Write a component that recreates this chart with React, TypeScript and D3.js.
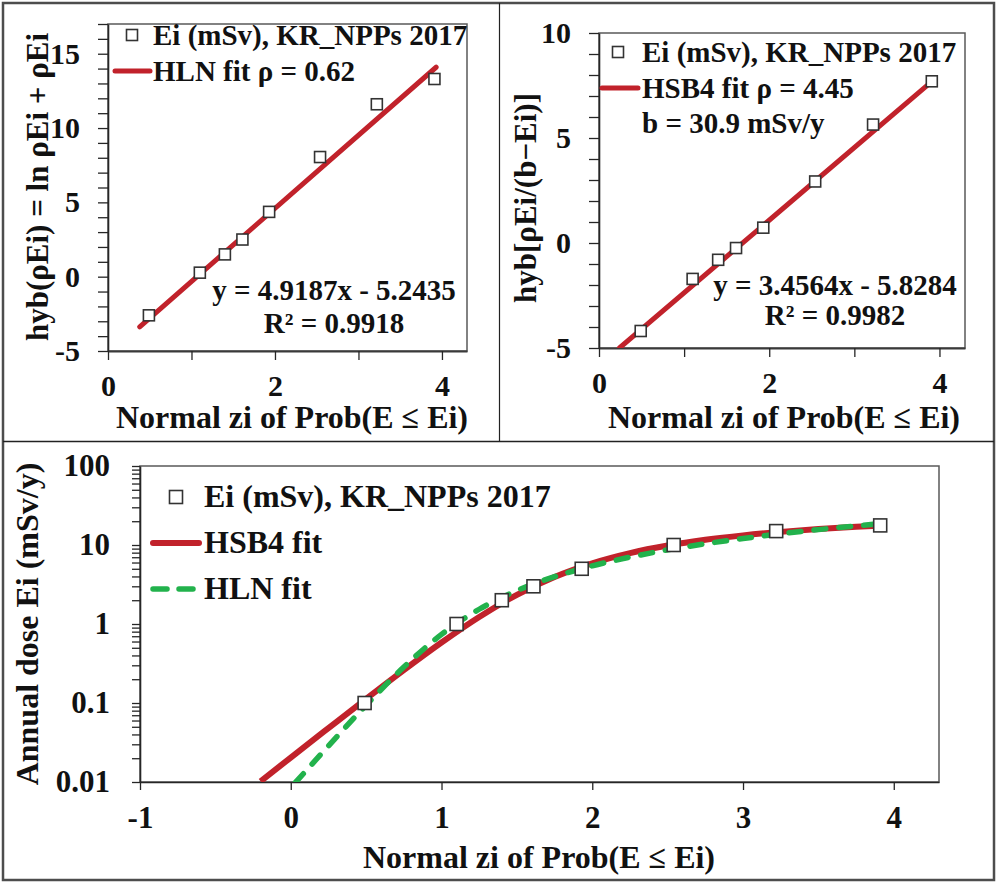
import React, { useEffect, useRef } from 'react';
import * as d3 from 'd3';

// normal scores zi of the 8 observed doses
const zi = [0.49, 1.10, 1.40, 1.61, 1.93, 2.54, 3.22, 3.91];
// transformed values, top-left panel (HLN, rho = 0.62)
const hybHLN = [-2.6, 0.27, 1.5, 2.5, 4.36, 8.05, 11.6, 13.3];
// transformed values, top-right panel (HSB4, rho = 4.45, b = 30.9)
const hybHSB4 = [-4.19, -1.71, -0.8, -0.24, 0.73, 2.93, 5.64, 7.7];
// annual doses Ei (mSv/y), bottom panel
const doseEi = [0.1, 1, 2, 3, 5, 10, 15, 17.7];

// straight fit lines (end points)
const hlnLineZ = [0.38, 3.93];
const hlnLineY = [-3.37, 14.09];
const hsbLineZ = [0.24, 3.87];
const hsbLineY = [-5.0, 7.55];

// fitted curves in the bottom panel
const hsbCurveZ = [-0.2, 0, 0.25, 0.5, 0.75, 1, 1.25, 1.5, 1.75, 2, 2.25, 2.5, 2.75, 3, 3.25, 3.5, 3.75, 3.9];
const hsbCurveE = [0.0102, 0.0204, 0.0481, 0.113, 0.261, 0.583, 1.228, 2.341, 3.941, 5.866, 7.89, 9.84, 11.64, 13.24, 14.66, 15.9, 17.0, 17.59];
const hlnCurveZ = [0.03, 0.25, 0.5, 0.75, 1, 1.25, 1.5, 1.75, 2, 2.25, 2.5, 2.75, 3, 3.25, 3.5, 3.75, 3.93];
const hlnCurveE = [0.0098, 0.0286, 0.094, 0.285, 0.738, 1.537, 2.645, 3.973, 5.447, 7.021, 8.665, 10.36, 12.09, 13.86, 15.65, 17.45, 18.76];

const legendObs = 'Ei (mSv), KR_NPPs 2017';
const xTitle = 'Normal zi of Prob(E \u2264 Ei)';

const FONT = '"Liberation Serif", "Times New Roman", serif';
const RED = '#c1222b';
const GREEN = '#22b24c';
const AXIS = '#262626';

type Sel = d3.Selection<SVGGElement, unknown, null, undefined>;

function styleAxis(g: Sel, fontSize: number) {
    g.select('.domain').attr('stroke', AXIS).attr('stroke-width', 1.6);
    g.selectAll('.tick line').attr('stroke', AXIS).attr('stroke-width', 1.3);
    g.selectAll('.tick text')
        .attr('fill', '#111')
        .style('font-family', FONT)
        .style('font-weight', 'bold')
        .style('font-size', fontSize + 'px');
}

function addText(g: Sel, x: number, y: number, txt: string, size: number, anchor = 'start', rotate = false) {
    const t = g.append('text')
        .attr('x', rotate ? 0 : x)
        .attr('y', rotate ? 0 : y)
        .attr('text-anchor', anchor)
        .attr('fill', '#111')
        .style('font-family', FONT)
        .style('font-weight', 'bold')
        .style('font-size', size + 'px')
        .text(txt);
    if (rotate) t.attr('transform', `translate(${x},${y}) rotate(-90)`);
    return t;
}

function addSquare(g: Sel, x: number, y: number, s: number) {
    g.append('rect')
        .attr('x', x - s / 2).attr('y', y - s / 2)
        .attr('width', s).attr('height', s)
        .attr('fill', '#fff').attr('stroke', '#333').attr('stroke-width', 1.6);
}

interface LinPanel {
    id: string;
    x0: number; x1: number; y0: number; y1: number;
    yDomain: [number, number];
    yLabels: number[];
    pts: number[];
    lineZ: number[]; lineY: number[];
    yTitle: string; yTitleX: number; yTitleY: number;
    xTitleX: number;
    legendX: number; legendMarkX: number; legendY: number; legendLine: [number, number];
    fitLabel: string; extra?: string;
    eqX: number; eq: string; r2: string; eqY: number; r2Y: number;
}

function drawLinearPanel(svg: Sel, p: LinPanel) {
    const x = d3.scaleLinear().domain([0, 4.3]).range([p.x0, p.x1]);
    const y = d3.scaleLinear().domain(p.yDomain).range([p.y1, p.y0]);
    const g = svg.append('g');

    g.append('rect')
        .attr('x', p.x0).attr('y', p.y0)
        .attr('width', p.x1 - p.x0).attr('height', p.y1 - p.y0)
        .attr('fill', 'none').attr('stroke', '#595959').attr('stroke-width', 1.5);

    const yTicks = d3.range(p.yDomain[0], p.yDomain[1] + 0.5, 1);
    const ya = g.append('g').attr('transform', `translate(${p.x0},0)`)
        .call(d3.axisLeft(y).tickValues(yTicks).tickSize(10).tickSizeOuter(0).tickPadding(18)
            .tickFormat(d => (p.yLabels.includes(+d) ? String(d) : '')));
    styleAxis(ya, 30);

    const xa = g.append('g').attr('transform', `translate(0,${p.y1})`)
        .call(d3.axisBottom(x).tickValues([0, 1, 2, 3, 4]).tickSize(9).tickSizeOuter(0).tickPadding(15)
            .tickFormat(d => (+d % 2 === 0 ? String(d) : '')));
    styleAxis(xa, 30);
    xa.select('.domain').attr('stroke-width', 2.2).attr('stroke', '#3a3a3a');

    const clipId = 'clip-' + p.id;
    svg.append('clipPath').attr('id', clipId).append('rect')
        .attr('x', p.x0).attr('y', p.y0).attr('width', p.x1 - p.x0).attr('height', p.y1 - p.y0);

    const line = d3.line<number>().x((d, i) => x(p.lineZ[i])).y(d => y(d));
    g.append('path')
        .datum(p.lineY)
        .attr('d', line)
        .attr('clip-path', `url(#${clipId})`)
        .attr('fill', 'none').attr('stroke', RED).attr('stroke-width', 5).attr('stroke-linecap', 'round');

    p.pts.forEach((v, i) => addSquare(g, x(zi[i]), y(v), 11));

    // legend
    addSquare(g, p.legendMarkX, p.legendY, 11);
    addText(g, p.legendX, p.legendY + 10, legendObs, 29);
    g.append('line')
        .attr('x1', p.legendLine[0]).attr('x2', p.legendLine[1])
        .attr('y1', p.legendY + 36).attr('y2', p.legendY + 36)
        .attr('stroke', RED).attr('stroke-width', 5).attr('stroke-linecap', 'round');
    addText(g, p.legendX, p.legendY + 46, p.fitLabel, 29);
    if (p.extra) addText(g, p.legendX, p.legendY + 81, p.extra, 29);

    addText(g, p.eqX, p.eqY, p.eq, 29, 'middle');
    addText(g, p.eqX, p.r2Y, p.r2, 29, 'middle');

    addText(g, p.xTitleX, 428, xTitle, 32, 'middle');
    addText(g, p.yTitleX, p.yTitleY, p.yTitle, 31, 'middle', true);
}

function drawBottomPanel(svg: Sel) {
    const x0 = 140, x1 = 939, y0 = 466, y1 = 782;
    const x = d3.scaleLinear().domain([-1, 4.3]).range([x0, x1]);
    const y = d3.scaleLog().domain([0.01, 100]).range([y1, y0]);
    const g = svg.append('g');

    g.append('rect')
        .attr('x', x0).attr('y', y0).attr('width', x1 - x0).attr('height', y1 - y0)
        .attr('fill', 'none').attr('stroke', '#595959').attr('stroke-width', 1.5);

    const decades = [0.01, 0.1, 1, 10];
    const yTicks: number[] = [];
    decades.forEach(d => d3.range(1, 10).forEach(k => yTicks.push(d * k)));
    yTicks.push(100);
    const labelMap: Record<string, string> = { '0.01': '0.01', '0.1': '0.1', '1': '1', '10': '10', '100': '100' };
    const ya = g.append('g').attr('transform', `translate(${x0},0)`)
        .call(d3.axisLeft(y).tickValues(yTicks).tickSize(8).tickSizeOuter(0).tickPadding(22)
            .tickFormat(d => labelMap[String(+(+d).toPrecision(3))] || ''));
    styleAxis(ya, 31);

    const xa = g.append('g').attr('transform', `translate(0,${y1})`)
        .call(d3.axisBottom(x).tickValues([-1, 0, 1, 2, 3, 4]).tickSize(8).tickSizeOuter(0).tickPadding(16)
            .tickFormat(d => String(d)));
    styleAxis(xa, 31);

    svg.append('clipPath').attr('id', 'clip-bottom').append('rect')
        .attr('x', x0).attr('y', y0).attr('width', x1 - x0).attr('height', y1 - y0);

    const hsbLine = d3.line<number>().x((d, i) => x(hsbCurveZ[i])).y(d => y(d)).curve(d3.curveMonotoneX);
    const hlnLine = d3.line<number>().x((d, i) => x(hlnCurveZ[i])).y(d => y(d)).curve(d3.curveMonotoneX);

    g.append('path').datum(hsbCurveE).attr('d', hsbLine)
        .attr('clip-path', 'url(#clip-bottom)')
        .attr('fill', 'none').attr('stroke', RED).attr('stroke-width', 6);
    g.append('path').datum(hlnCurveE).attr('d', hlnLine)
        .attr('clip-path', 'url(#clip-bottom)')
        .attr('fill', 'none').attr('stroke', GREEN).attr('stroke-width', 5.5)
        .attr('stroke-dasharray', '12 13').attr('stroke-linecap', 'round');

    doseEi.forEach((v, i) => addSquare(g, x(zi[i]), y(v), 13));

    // legend
    addSquare(g, 176, 497, 13);
    addText(g, 204, 507, legendObs, 32);
    g.append('line').attr('x1', 153).attr('x2', 199).attr('y1', 543).attr('y2', 543)
        .attr('stroke', RED).attr('stroke-width', 6).attr('stroke-linecap', 'round');
    addText(g, 204, 553, 'HSB4 fit', 32);
    g.append('line').attr('x1', 153).attr('x2', 199).attr('y1', 589).attr('y2', 589)
        .attr('stroke', GREEN).attr('stroke-width', 5.5).attr('stroke-linecap', 'round')
        .attr('stroke-dasharray', '14 12');
    addText(g, 204, 599, 'HLN fit', 32);

    addText(g, 539, 868, xTitle, 32, 'middle');
    addText(g, 38, 624, 'Annual dose Ei (mSv/y)', 32, 'middle', true);
}

const App: React.FC = () => {
    const ref = useRef<SVGSVGElement | null>(null);

    useEffect(() => {
        const svg = d3.select(ref.current) as unknown as Sel;
        svg.selectAll('*').remove();

        svg.append('rect').attr('width', 1000).attr('height', 884).attr('fill', '#fff');

        drawLinearPanel(svg, {
            id: 'tl', x0: 108, x1: 467, y0: 24, y1: 351,
            yDomain: [-5, 17], yLabels: [-5, 0, 5, 10, 15],
            pts: hybHLN, lineZ: hlnLineZ, lineY: hlnLineY,
            yTitle: 'hyb(\u03c1Ei) = ln \u03c1Ei + \u03c1Ei', yTitleX: 48, yTitleY: 187,
            xTitleX: 292,
            legendX: 153, legendMarkX: 132, legendY: 35, legendLine: [115, 150],
            fitLabel: 'HLN fit \u03c1 = 0.62',
            eqX: 334, eq: 'y = 4.9187x - 5.2435', r2: 'R\u00b2 = 0.9918', eqY: 300, r2Y: 333,
        });

        drawLinearPanel(svg, {
            id: 'tr', x0: 599, x1: 965, y0: 33, y1: 348,
            yDomain: [-5, 10], yLabels: [-5, 0, 5, 10],
            pts: hybHSB4, lineZ: hsbLineZ, lineY: hsbLineY,
            yTitle: 'hyb[\u03c1Ei/(b\u2212Ei)]', yTitleX: 536, yTitleY: 198,
            xTitleX: 784,
            legendX: 642, legendMarkX: 618, legendY: 52, legendLine: [602, 638],
            fitLabel: 'HSB4 fit \u03c1 = 4.45', extra: 'b = 30.9 mSv/y',
            eqX: 835, eq: 'y = 3.4564x - 5.8284', r2: 'R\u00b2 = 0.9982', eqY: 295, r2Y: 325,
        });

        drawBottomPanel(svg);

        // panel frame
        svg.append('rect').attr('x', 3).attr('y', 3).attr('width', 991).attr('height', 877)
            .attr('fill', 'none').attr('stroke', '#4d4d4d').attr('stroke-width', 2.5);
        svg.append('line').attr('x1', 3).attr('x2', 994).attr('y1', 441.5).attr('y2', 441.5)
            .attr('stroke', '#222').attr('stroke-width', 1.5);
        svg.append('line').attr('x1', 499.5).attr('x2', 499.5).attr('y1', 3).attr('y2', 441.5)
            .attr('stroke', '#222').attr('stroke-width', 1.2);
    }, []);

    return (
        <svg ref={ref} width={1000} height={884}
             style={{ position: 'absolute', left: 0, top: 0, display: 'block' }} />
    );
};

export default App;
